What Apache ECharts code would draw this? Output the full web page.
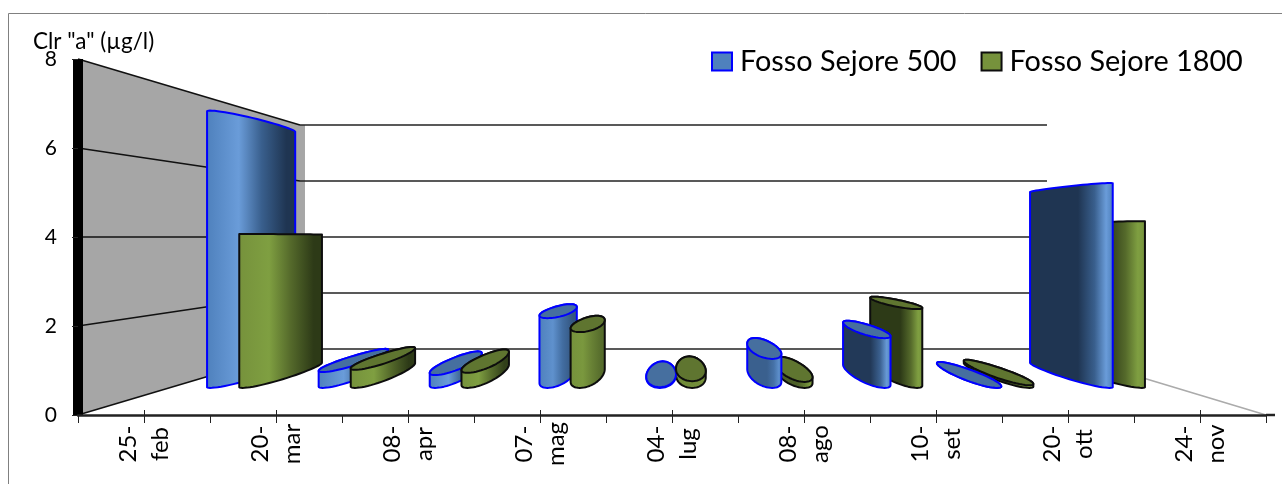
<!DOCTYPE html>
<html><head><meta charset="utf-8">
<style>html,body{margin:0;padding:0;background:#fff}#c{width:1282px;height:484px}</style>
<script src="https://cdn.jsdelivr.net/npm/echarts@6/dist/echarts.min.js"></script>
</head><body><div id="c"></div>
<script>
const categories = ['25-\nfeb','20-\nmar','08-\napr','07-\nmag','04-\nlug','08-\nago','10-\nset','20-\nott','24-\nnov'];
const yTicks = [0,2,4,6,8];
const seriesNames = ['Fosso Sejore 500','Fosso Sejore 1800'];
const sejore500 = [7.35,0.42,0.34,1.85,0.02,0.77,1.32,0.0,5.43];
const sejore1800 = [4.08,0.48,0.40,1.48,0.18,0.16,2.09,0.07,4.42];

// perspective of the 3D box: front plane is the ECharts grid, everything converges to a vanishing point
const VP = [676, 237];
const S_BACK = 0.6288, S_FRONT = 0.848, S_REAR = 0.702;
const proj = (x, y, s) => [VP[0] + (x - VP[0]) * s, VP[1] + (y - VP[1]) * s];
const projBar = (x, y, s) => [VP[0] + (x - VP[0]) * (0.700 + (s - S_REAR) * 1.04), VP[1] + (y - VP[1]) * s];

const palette = [
  {base:'#4f81bd', light:'#6a9cd9', dark:'#1f3552', cap:'#466f9f', edge:'#0000ff'},
  {base:'#76923c', light:'#7f9f41', dark:'#2d3a17', cap:'#5f7530', edge:'#0d0d0d'}
];
function mix(a,b,t){
  const p=c=>[1,3,5].map(i=>parseInt(c.substr(i,2),16));
  const A=p(a),B=p(b);
  return 'rgb('+A.map((v,i)=>Math.round(v+(B[i]-v)*t)).join(',')+')';
}
function hull(pts){
  const P=pts.slice().sort((a,b)=>a[0]-b[0]||a[1]-b[1]);
  const cr=(o,a,b)=>(a[0]-o[0])*(b[1]-o[1])-(a[1]-o[1])*(b[0]-o[0]);
  const lo=[],up=[];
  for(const p of P){while(lo.length>1&&cr(lo[lo.length-2],lo[lo.length-1],p)<=0)lo.pop();lo.push(p);}
  for(const p of P.slice().reverse()){while(up.length>1&&cr(up[up.length-2],up[up.length-1],p)<=0)up.pop();up.push(p);}
  return lo.slice(0,-1).concat(up.slice(0,-1));
}
function barRenderer(si){
  const pal=palette[si];
  const offset=si===0?-15:23, RX=19;
  return function(params,api){
    const c=api.coord([api.value(0),api.value(1)]);
    const y0=api.coord([api.value(0),0])[1];
    const Xc=c[0]+offset, sc=(S_FRONT+S_REAR)/2, rs=(S_FRONT-S_REAR)/2;
    const base=[],top=[];
    for(let i=0;i<56;i++){
      const t=i/56*Math.PI*2;
      const X=Xc+RX*Math.cos(t), s=sc+rs*Math.sin(t);
      base.push(projBar(X,y0,s));
      top.push(projBar(X,c[1],s));
    }
    const poly=hull(base.concat(top));
    const xs=poly.map(p=>p[0]);
    const x1=Math.min.apply(null,xs),x2=Math.max.apply(null,xs);
    const d=Xc-VP[0], k=Math.min(1,Math.abs(d)/260);
    const dk=mix(pal.base,pal.dark,k), lt=mix(pal.base,pal.light,k), md=mix(pal.base,pal.dark,k*0.45);
    const stops=d<0
      ?[[0,pal.base],[.36,lt],[.62,md],[.9,dk],[1,dk]]
      :[[0,dk],[.58,dk],[.78,md],[.92,lt],[1,pal.base]];
    const fill={type:'linear',x:x1,y:0,x2:x2,y2:0,global:true,
      colorStops:stops.map(o=>({offset:o[0],color:o[1]}))};
    // the bar nearer the middle of the box is painted over its neighbour
    const z2=100-Math.round(Math.abs(d)/5);
    const children=[{type:'polygon',z2:z2,shape:{points:poly},
      style:{fill:fill,stroke:pal.edge,lineWidth:2,lineJoin:'round'}}];
    if(c[1]>VP[1]){
      children.push({type:'polygon',z2:z2+1,shape:{points:top},
        style:{fill:pal.cap,stroke:pal.edge,lineWidth:2,lineJoin:'round'}});
    }
    return {type:'group',children:children};
  };
}
function frameRenderer(params,api){
  const cs=params.coordSys, L=cs.x, R=cs.x+cs.width;
  const v=api.value(1), y=api.coord([0,v])[1];
  const a=proj(L,y,S_BACK), b=proj(R,y,S_BACK);
  const line=(p,q,col,w)=>({type:'line',z2:2,shape:{x1:p[0],y1:p[1],x2:q[0],y2:q[1]},style:{stroke:col,lineWidth:w}});
  const ch=[line([L,y],a,'#111',1.6),line(a,b,'#222',1.6)];
  if(v===0){
    const top=cs.y, t=proj(L,top,S_BACK);
    ch.unshift({type:'polygon',z2:1,shape:{points:[[L,top],t,[t[0]+5,t[1]],[a[0]+5,a[1]],a,[L,y]]},style:{fill:'#a6a6a6'}});
    ch.push(line([R,y],b,'#ababab',1.6));
    ch.push(line([R,y],[R+9,y],'#222',2.5));
  }
  return {type:'group',children:ch};
}
const chart=echarts.init(document.getElementById('c'),null,{renderer:'canvas'});
const FONT='Lato';
chart.setOption({
  animation:false,
  backgroundColor:'#fff',
  textStyle:{fontFamily:FONT,color:'#000'},
  title:{text:'Clr "a" (µg/l)',left:28,top:25,textStyle:{fontFamily:FONT,fontSize:22.5,fontWeight:'normal',color:'#000'}},
  graphic:[{type:'rect',silent:true,z:-1,shape:{x:8.5,y:13.5,width:1290,height:500},style:{fill:'none',stroke:'#808080',lineWidth:1}}],
  legend:{left:706,top:42,itemWidth:20,itemHeight:18,itemGap:24,icon:'rect',
    textStyle:{fontFamily:FONT,fontSize:28.8,color:'#000',padding:[0,0,0,3]},
    data:[
      {name:seriesNames[0],itemStyle:{color:palette[0].base,borderColor:palette[0].edge,borderWidth:2}},
      {name:seriesNames[1],itemStyle:{color:palette[1].base,borderColor:palette[1].edge,borderWidth:2}}
    ]},
  grid:{left:78,right:16,top:59,bottom:69},
  xAxis:[
    {type:'category',data:categories,z:5,position:'bottom',
      axisLine:{lineStyle:{color:'#222',width:2.5}},
      axisTick:{show:true,length:8,alignWithLabel:false,lineStyle:{color:'#222',width:1}},
      axisLabel:{rotate:90,interval:0,fontSize:24,lineHeight:32,color:'#000',fontFamily:FONT,margin:29,align:'center',verticalAlign:'middle'}},
    {type:'category',data:categories,z:5,position:'bottom',offset:-5,
      axisLine:{show:false},
      axisTick:{show:true,length:13,alignWithLabel:true,lineStyle:{color:'#222',width:1}},
      axisLabel:{show:false}}
  ],
  yAxis:{type:'value',min:0,max:8,interval:2,z:5,
    axisLine:{show:true,lineStyle:{color:'#000',width:10,cap:'butt'}},
    axisTick:{show:true,length:6,lineStyle:{color:'#222',width:1}},
    splitLine:{show:false},
    axisLabel:{fontSize:21,color:'#000',fontFamily:FONT,margin:21}},
  series:[
    {type:'custom',name:'wall',silent:true,z:1,renderItem:frameRenderer,encode:{x:0,y:1},
      data:yTicks.map(v=>[0,v])},
    {type:'custom',name:seriesNames[0],silent:true,z:3,renderItem:barRenderer(0),encode:{x:0,y:1},
      itemStyle:{color:palette[0].base},data:sejore500.map((v,i)=>[i,v])},
    {type:'custom',name:seriesNames[1],silent:true,z:3,renderItem:barRenderer(1),encode:{x:0,y:1},
      itemStyle:{color:palette[1].base},data:sejore1800.map((v,i)=>[i,v])}
  ]
});
</script></body></html>
